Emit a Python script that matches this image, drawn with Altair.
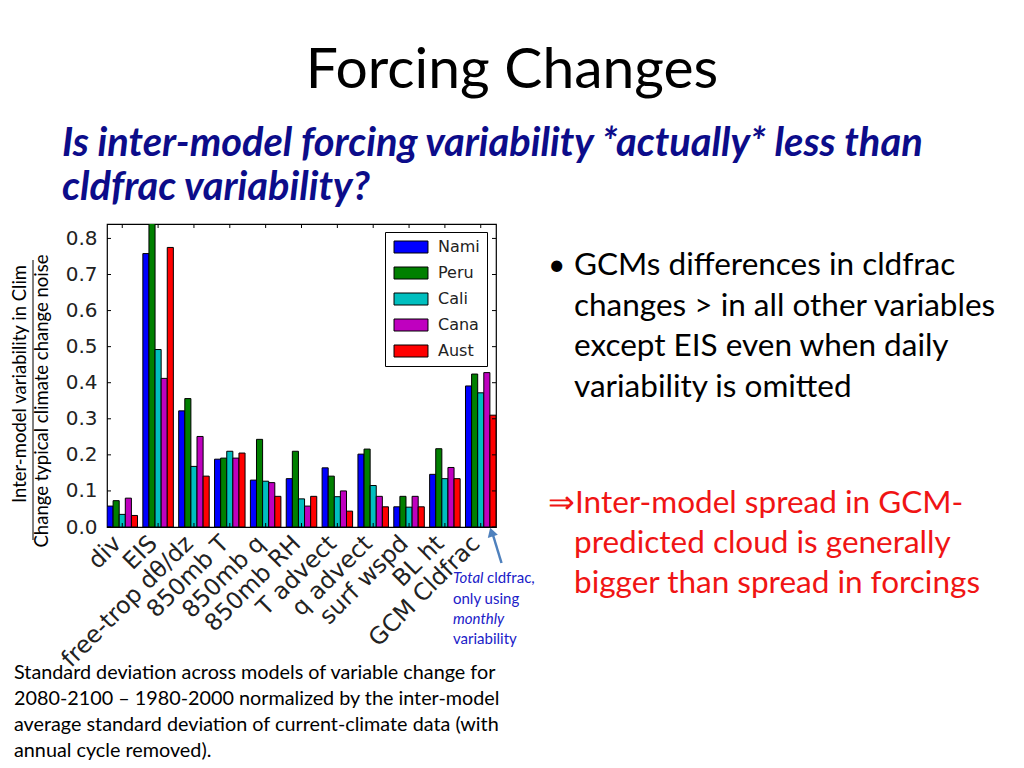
import altair as alt
import pandas as pd

# ---------------- data ----------------
categories = ["div", "EIS", "free-trop dθ/dz", "850mb T", "850mb q", "850mb RH",
              "T advect", "q advect", "surf wspd", "BL ht", "GCM Cldfrac"]
regions = ["Nami", "Peru", "Cali", "Cana", "Aust"]
nami = [0.058, 0.758, 0.322, 0.188, 0.130, 0.134, 0.164, 0.202, 0.056, 0.146, 0.391]
peru = [0.073, 0.880, 0.356, 0.191, 0.243, 0.210, 0.141, 0.216, 0.085, 0.217, 0.424]
cali = [0.035, 0.492, 0.168, 0.210, 0.127, 0.078, 0.084, 0.115, 0.055, 0.134, 0.372]
cana = [0.080, 0.412, 0.251, 0.191, 0.123, 0.058, 0.100, 0.085, 0.085, 0.165, 0.428]
aust = [0.032, 0.775, 0.141, 0.205, 0.085, 0.085, 0.044, 0.056, 0.056, 0.134, 0.310]
yticks = [0.0, 0.1, 0.2, 0.3, 0.4, 0.5, 0.6, 0.7, 0.8]
colors = ["#0000ff", "#008000", "#00bfbf", "#bf00bf", "#ff0000"]

title_text = "Forcing Changes"
question_lines = ["Is inter-model forcing variability *actually* less than",
                  "cldfrac variability?"]
bullet_lines = ["GCMs differences in cldfrac", "changes > in all other variables",
                "except EIS even when daily", "variability is omitted"]
concl_first = "⇒Inter-model spread in GCM-"
concl_rest = ["predicted cloud is generally", "bigger than spread in forcings"]
caption_lines = ["Standard deviation across models of variable change for",
                 "2080-2100 – 1980-2000 normalized by the inter-model",
                 "average standard deviation of current-climate data (with",
                 "annual cycle removed)."]
ylab1 = "Inter-model variability in Clim"
ylab2 = "Change typical climate change noise"

series = [nami, peru, cali, cana, aust]
rows = []
for r, vals in zip(regions, series):
    for c, v in zip(categories, vals):
        rows.append({"variable": c, "region": r, "value": v})
df = pd.DataFrame(rows)
cat_df = pd.DataFrame({"variable": categories})
tick_df = pd.DataFrame({"v": yticks})

W, H = 389, 303
SLIDE = "Lato"
yscale = alt.Scale(domain=[0, 0.84], nice=False, zero=True)
xscale = alt.Scale(domain=categories, paddingInner=0.149, paddingOuter=0)
xaxis = alt.Axis(title=None, labelAngle=-45, labelAlign="right", labelBaseline="top",
                 labelFont="DejaVu Sans", labelFontSize=23.5, labelColor="#222222",
                 ticks=False, tickSize=0, domain=False, labelPadding=4, labelOffset=-13)
yaxis = alt.Axis(title=None, values=yticks, format=".1f", labelFont="DejaVu Sans",
                 labelFontSize=20, labelColor="#222222", ticks=False, tickSize=0,
                 domain=False, grid=False, labelPadding=10)

bars = alt.Chart(df).mark_bar(stroke="black", strokeWidth=1, clip=True, opacity=1).encode(
    x=alt.X("variable:N", sort=categories, scale=xscale, axis=xaxis),
    xOffset=alt.XOffset("region:N", sort=regions,
                        scale=alt.Scale(domain=regions, paddingInner=0, paddingOuter=0)),
    y=alt.Y("value:Q", scale=yscale, axis=yaxis),
    color=alt.Color("region:N", sort=regions, scale=alt.Scale(domain=regions, range=colors),
                    legend=alt.Legend(title=None, orient="none", legendX=278, legendY=8,
                                      strokeColor="black", fillColor="white", padding=7,
                                      symbolType="M-2.83,-1L2.83,-1L2.83,1L-2.83,1Z",
                                      symbolSize=144, symbolOffset=11,
                                      symbolStrokeColor="black", symbolStrokeWidth=1,
                                      symbolOpacity=1, labelFont="DejaVu Sans",
                                      labelFontSize=16, labelColor="#222222",
                                      labelOffset=19, rowPadding=10)),
)

tick_l = alt.Chart(tick_df).mark_rule(color="black").encode(
    y=alt.Y("v:Q", scale=yscale, axis=yaxis), x=alt.value(0), x2=alt.value(4))
tick_r = alt.Chart(tick_df).mark_rule(color="black").encode(
    y=alt.Y("v:Q", scale=yscale, axis=yaxis), x=alt.value(W - 4), x2=alt.value(W))
tick_t = alt.Chart(cat_df).mark_rule(color="black").encode(
    x=alt.X("variable:N", sort=categories, scale=xscale, bandPosition=0.5, axis=xaxis),
    y=alt.value(0), y2=alt.value(4))
tick_b = alt.Chart(cat_df).mark_rule(color="black").encode(
    x=alt.X("variable:N", sort=categories, scale=xscale, bandPosition=0.5, axis=xaxis),
    y=alt.value(H - 4), y2=alt.value(H))

one = alt.Data(values=[{}])


def txt(text, x, y, **kw):
    opts = dict(align="left", baseline="alphabetic", font=SLIDE)
    opts.update(kw)
    return alt.Chart(one).mark_text(**opts).encode(
        x=alt.value(x), y=alt.value(y), text=alt.value(text))


BLUE = "#2020c8"
RED = "#f01414"
texts = [
    txt(title_text, 405, -136, align="center", fontSize=57, color="#000000"),
    txt(question_lines, -45, -68, fontSize=39.8, fontWeight="bold", fontStyle="italic",
        color="#0c0c8a", lineHeight=44),
    txt("•", 441, 51, fontSize=30, color="#000000"),
    txt(bullet_lines, 467, 51, fontSize=31.5, color="#000000", lineHeight=40.5),
    txt(concl_first, 441, 289, fontSize=31.5, color=RED),
    txt(concl_rest, 467, 329, fontSize=31.5, color=RED, lineHeight=40),
    txt(caption_lines, -93, 455, fontSize=19.8, color="#000000", lineHeight=26),
    txt("Total", 346, 359, fontSize=15, fontStyle="italic", color=BLUE),
    txt("cldfrac,", 380, 359, fontSize=15, color=BLUE),
    txt("only using", 346, 380, fontSize=15, color=BLUE),
    txt("monthly", 346, 400, fontSize=15, fontStyle="italic", color=BLUE),
    txt("variability", 346, 420, fontSize=15, color=BLUE),
    txt(ylab1, -87, 160, align="center", baseline="middle", angle=270, fontSize=18.5,
        color="#000000"),
    txt(ylab2, -65, 177, align="center", baseline="middle", angle=270, fontSize=18.5,
        color="#000000"),
]

yl_rule = alt.Chart(one).mark_rule(color="black", strokeWidth=1).encode(
    x=alt.value(-74), y=alt.value(36), y2=alt.value(316))
arrow_line = alt.Chart(one).mark_rule(color="#4f81bd", strokeWidth=2.5).encode(
    x=alt.value(394.5), y=alt.value(339), x2=alt.value(386), y2=alt.value(311))
arrow_head = alt.Chart(one).mark_point(shape="triangle-up", filled=True, color="#4f81bd",
                                       size=110, angle=343, opacity=1).encode(
    x=alt.value(384.5), y=alt.value(308))

chart = alt.layer(bars, tick_l, tick_r, tick_t, tick_b, yl_rule, arrow_line, arrow_head,
                  *texts).properties(
    width=W, height=H,
    autosize=alt.AutoSizeParams(type="none"),
    padding={"left": 99, "top": 216, "right": 520, "bottom": 233},
    background="white",
).configure_view(stroke="black", strokeWidth=1.2)

chart.save("out.html", embed_options={"renderer": "svg", "actions": False})
